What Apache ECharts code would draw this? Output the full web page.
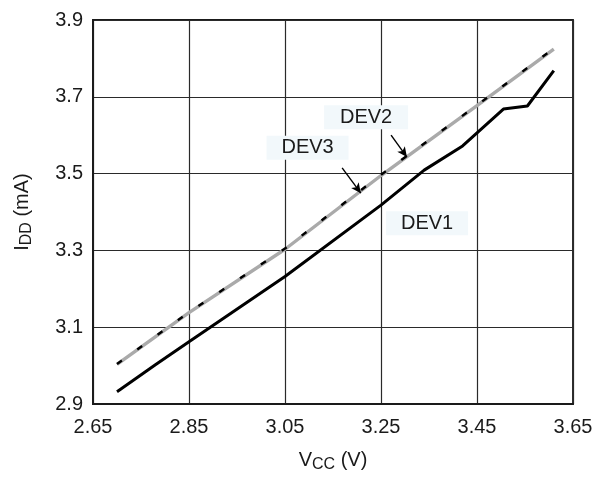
<!DOCTYPE html>
<html>
<head>
<meta charset="utf-8">
<script src="https://cdn.jsdelivr.net/npm/echarts@6/dist/echarts.min.js"></script>
<style>html,body{margin:0;padding:0;background:#fff}#c{width:596px;height:479px}</style>
</head>
<body>
<div id="c"></div>
<script>
var xTicks = [2.65, 2.85, 3.05, 3.25, 3.45, 3.65];
var yTicks = [2.9, 3.1, 3.3, 3.5, 3.7, 3.9];

var dev1X = [2.70, 2.78, 2.85, 3.05, 3.25, 3.34, 3.42, 3.505, 3.555, 3.61];
var dev1Y = [2.932, 3.002, 3.062, 3.232, 3.418, 3.509, 3.572, 3.668, 3.676, 3.768];

var dev3X = [2.70, 2.85, 3.05, 3.25, 3.45, 3.61];
var dev3Y = [3.003, 3.138, 3.303, 3.495, 3.677, 3.824];

var dev2X = [2.70, 2.85, 3.05, 3.25, 3.45, 3.61];
var dev2Y = [3.004, 3.139, 3.305, 3.497, 3.678, 3.826];

function pairs(xs, ys) { return xs.map(function (x, i) { return [x, ys[i]]; }); }

var font = 'Liberation Sans, Arial, Helvetica, sans-serif';
var labelBox = '#f2f8fb';
var txt = '#1a1a1a';

var nameRich = {
  a: {fontSize: 20, fontFamily: font, color: txt, lineHeight: 26},
  b: {fontSize: 16, fontFamily: font, color: txt, lineHeight: 26, verticalAlign: 'bottom', padding: [11, 0, 0, 0]}
};

var chart = echarts.init(document.getElementById('c'), null, {renderer: 'canvas'});
chart.setOption({
  animation: false,
  backgroundColor: '#fff',
  grid: {left: 93, right: 23, top: 20, bottom: 75, show: true, borderColor: '#1a1a1a', borderWidth: 1.8, backgroundColor: 'transparent'},
  xAxis: {
    type: 'value', min: 2.65, max: 3.65, interval: 0.2,
    name: '{a|V}{b|CC}{a| (V)}', nameLocation: 'middle', nameGap: 43,
    nameTextStyle: {rich: nameRich},
    axisLine: {show: true, lineStyle: {color: '#1a1a1a', width: 1.8}},
    axisTick: {show: false},
    axisLabel: {fontSize: 20, fontFamily: font, color: txt, margin: 13, formatter: function (v) { return v.toFixed(2); }},
    splitLine: {show: true, lineStyle: {color: '#2a2a2a', width: 1.2}}
  },
  yAxis: {
    type: 'value', min: 2.9, max: 3.9, interval: 0.2,
    name: '{a|I}{b|DD}{a| (mA)}', nameLocation: 'middle', nameGap: 58, nameRotate: 90,
    nameTextStyle: {rich: nameRich},
    axisLine: {show: true, lineStyle: {color: '#1a1a1a', width: 1.8}},
    axisTick: {show: false},
    axisLabel: {fontSize: 20, fontFamily: font, color: txt, margin: 10, formatter: function (v) { return v.toFixed(1); }},
    splitLine: {show: true, lineStyle: {color: '#2a2a2a', width: 1.2}}
  },
  series: [
    {
      name: 'DEV1', type: 'line', data: pairs(dev1X, dev1Y), showSymbol: false, symbol: 'none',
      lineStyle: {color: '#000', width: 3}, z: 3,
      markPoint: {
        symbol: 'rect', symbolSize: [82, 24], silent: true,
        itemStyle: {color: labelBox},
        label: {show: true, formatter: 'DEV1', color: txt, fontSize: 20, fontFamily: font},
        data: [{coord: [3.346, 3.371]}]
      }
    },
    {
      name: 'DEV3', type: 'line', data: pairs(dev3X, dev3Y), showSymbol: false, symbol: 'none',
      lineStyle: {color: '#aaaaaa', width: 3.4}, z: 3,
      markPoint: {
        symbol: 'rect', symbolSize: [82, 24], silent: true,
        itemStyle: {color: labelBox},
        label: {show: true, formatter: 'DEV3', color: txt, fontSize: 20, fontFamily: font},
        data: [{coord: [3.097, 3.567]}]
      },
      markLine: {
        silent: true, symbol: ['none', 'arrow'], symbolSize: [7, 10],
        lineStyle: {color: '#000', width: 1.4, type: 'solid'},
        label: {show: false},
        data: [[{coord: [3.169, 3.515]}, {coord: [3.208, 3.449]}]]
      }
    },
    {
      name: 'DEV2', type: 'line', data: pairs(dev2X, dev2Y), showSymbol: false, symbol: 'none',
      lineStyle: {color: '#000', width: 2.4, type: [6, 19]}, z: 4,
      markPoint: {
        symbol: 'rect', symbolSize: [84, 24], silent: true,
        itemStyle: {color: labelBox},
        label: {show: true, formatter: 'DEV2', color: txt, fontSize: 20, fontFamily: font},
        data: [{coord: [3.219, 3.647]}]
      },
      markLine: {
        silent: true, symbol: ['none', 'arrow'], symbolSize: [7, 10],
        lineStyle: {color: '#000', width: 1.4, type: 'solid'},
        label: {show: false},
        data: [[{coord: [3.271, 3.600]}, {coord: [3.304, 3.543]}]]
      }
    }
  ]
});
</script>
</body>
</html>
